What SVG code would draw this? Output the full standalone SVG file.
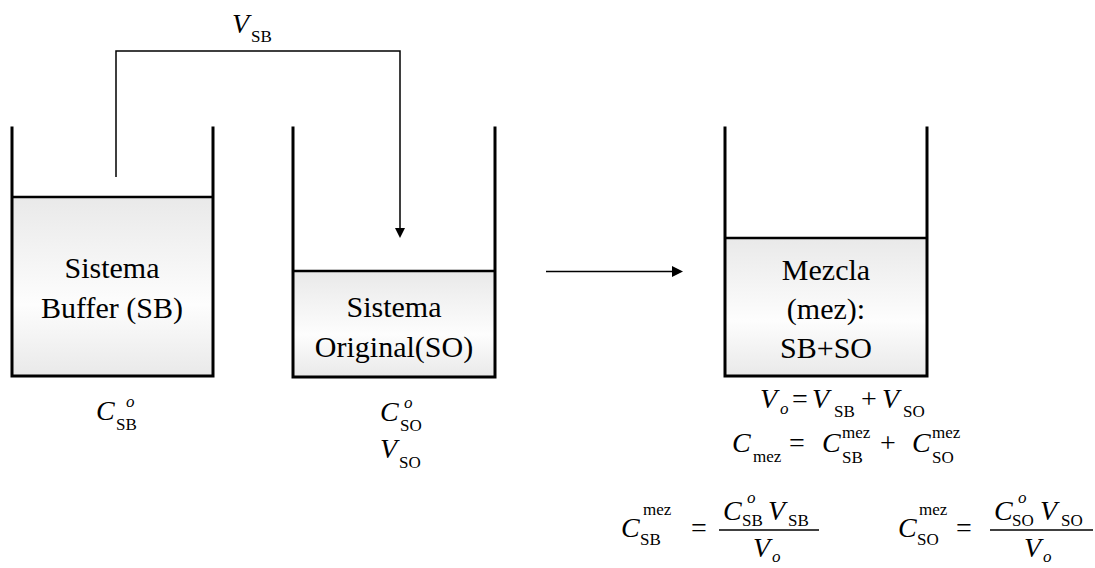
<svg xmlns="http://www.w3.org/2000/svg" width="1095" height="568" viewBox="0 0 1095 568">
<defs>
<linearGradient id="liq" x1="0" y1="0" x2="0" y2="1">
<stop offset="0" stop-color="#e9e9e9"/>
<stop offset="0.6" stop-color="#fdfdfd"/>
<stop offset="1" stop-color="#e9e9e9"/>
</linearGradient>
<style>
.wall{fill:none;stroke:#000;stroke-width:3;stroke-linecap:square;stroke-linejoin:miter}
.surf{fill:none;stroke:#000;stroke-width:2.5}
.liq{fill:url(#liq)}
text{font-family:"Liberation Serif","Times New Roman",serif;fill:#000}
.lbl{font-size:30px;text-anchor:middle}
.m{font-size:28px;font-style:italic}
.op{font-size:28px}
.s{font-size:17px}
.si{font-size:17px;font-style:italic}
.pipe{fill:none;stroke:#000;stroke-width:1.5}
.bar{stroke:#000;stroke-width:1.5}
</style>
</defs>
<rect width="1095" height="568" fill="#fff"/>

<g id="connectors">
<polyline class="pipe" points="116,177 116,51 400,51 400,229"/>
<polygon points="395,228 405,228 400,238" fill="#000"/>
<line class="pipe" x1="546" y1="271.5" x2="673" y2="271.5"/>
<polygon points="672,266 683,271.5 672,277" fill="#000"/>
<g id="label-vsb">
<text class="m" x="232" y="33">V</text><text class="s" x="251" y="42">SB</text>
</g>
</g>

<g id="node-sb">
<rect class="liq" x="12" y="197" width="201" height="179"/>
<line class="surf" x1="12" y1="197" x2="213" y2="197"/>
<polyline class="wall" points="12,128 12,376 213,376 213,128"/>
<text class="lbl" x="112" y="278">Sistema</text>
<text class="lbl" x="112" y="318">Buffer (SB)</text>
<text class="m" x="96" y="420">C</text><text class="si" x="126" y="407">o</text><text class="s" x="116" y="430">SB</text>
</g>

<g id="node-so">
<rect class="liq" x="293" y="271" width="202" height="106"/>
<line class="surf" x1="293" y1="271" x2="495" y2="271"/>
<polyline class="wall" points="293,128 293,377 495,377 495,128"/>
<text class="lbl" x="394" y="317">Sistema</text>
<text class="lbl" x="394" y="357">Original(SO)</text>
<text class="m" x="380" y="421">C</text><text class="si" x="404" y="408">o</text><text class="s" x="400" y="431">SO</text>
<text class="m" x="380" y="458">V</text><text class="s" x="399" y="468">SO</text>
</g>

<g id="node-mez">
<rect class="liq" x="725" y="238" width="202" height="138"/>
<line class="surf" x1="725" y1="238" x2="927" y2="238"/>
<polyline class="wall" points="725,128 725,376 927,376 927,128"/>
<text class="lbl" x="826" y="280">Mezcla</text>
<text class="lbl" x="826" y="319">(mez):</text>
<text class="lbl" x="826" y="358">SB+SO</text>
</g>

<g id="equations">
<text class="m" x="760" y="408">V</text><text class="si" x="780" y="414">o</text>
<text class="op" x="792" y="408">=</text>
<text class="m" x="812" y="408">V</text><text class="s" x="834" y="417">SB</text>
<text class="op" x="861" y="408">+</text>
<text class="m" x="882" y="408">V</text><text class="s" x="903" y="417">SO</text>

<text class="m" x="732" y="452">C</text><text class="s" x="753" y="462">mez</text>
<text class="op" x="789" y="452">=</text>
<text class="m" x="822" y="452">C</text><text class="s" x="842" y="438">mez</text><text class="s" x="842" y="463">SB</text>
<text class="op" x="880" y="452">+</text>
<text class="m" x="912" y="452">C</text><text class="s" x="932" y="438">mez</text><text class="s" x="932" y="463">SO</text>

<text class="m" x="621" y="537">C</text><text class="s" x="643" y="515">mez</text><text class="s" x="640" y="545">SB</text>
<text class="op" x="691" y="537">=</text>
<line class="bar" x1="719" y1="530" x2="819" y2="530"/>
<text class="m" x="723" y="520">C</text><text class="si" x="747" y="503">o</text><text class="s" x="742" y="526">SB</text>
<text class="m" x="768" y="520">V</text><text class="s" x="788" y="526">SB</text>
<text class="m" x="753" y="557">V</text><text class="si" x="772" y="562">o</text>

<text class="m" x="898" y="537">C</text><text class="s" x="919" y="515">mez</text><text class="s" x="917" y="545">SO</text>
<text class="op" x="956" y="537">=</text>
<line class="bar" x1="990" y1="530" x2="1093" y2="530"/>
<text class="m" x="994" y="520">C</text><text class="si" x="1018" y="503">o</text><text class="s" x="1012" y="526">SO</text>
<text class="m" x="1040" y="520">V</text><text class="s" x="1061" y="526">SO</text>
<text class="m" x="1024" y="557">V</text><text class="si" x="1043" y="562">o</text>
</g>
</svg>
